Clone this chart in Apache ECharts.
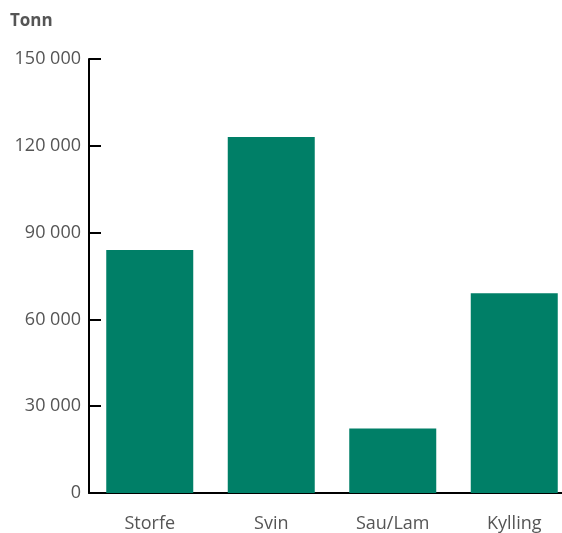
<!DOCTYPE html>
<html><head><meta charset="utf-8">
<script src="https://cdn.jsdelivr.net/npm/echarts@6/dist/echarts.min.js"></script>
<style>html,body{margin:0;padding:0;background:#fff;overflow:hidden}#c{width:576px;height:533px}</style>
</head><body><div id="c"></div>
<script>
const categories = ['Storfe', 'Svin', 'Sau/Lam', 'Kylling'];
const values = [84000, 123000, 22300, 69000];
const yTicks = [0, 30000, 60000, 90000, 120000, 150000];
const FONT = 'Open Sans';
const chart = echarts.init(document.getElementById('c'));
chart.setOption({
  animation: false,
  title: { text: 'Tonn', left: 10, top: 13, padding: 0, textStyle: { fontFamily: FONT, fontSize: 17, fontWeight: 'bold', color: '#555' } },
  grid: { left: 89, right: 1, top: 59, bottom: 40, containLabel: false },
  xAxis: {
    type: 'category', data: categories,
    axisLine: { lineStyle: { color: '#000', width: 2 } },
    axisTick: { show: false },
    axisLabel: { color: '#555', fontFamily: FONT, fontSize: 18, margin: 22 }
  },
  yAxis: {
    type: 'value', min: 0, max: 150000, interval: 30000,
    axisLine: { show: true, lineStyle: { color: '#000', width: 2 } },
    axisTick: { show: true, inside: true, length: 12, lineStyle: { color: '#000', width: 2 } },
    splitLine: { show: false },
    axisLabel: { color: '#555', fontFamily: FONT, fontSize: 18, margin: 8,
      formatter: v => yTicks.includes(v) ? String(v).replace(/\B(?=(\d{3})+(?!\d))/g, ' ') : '' }
  },
  series: [{ type: 'bar', data: values, barWidth: 87, itemStyle: { color: '#007f67' } }]
});
</script></body></html>
